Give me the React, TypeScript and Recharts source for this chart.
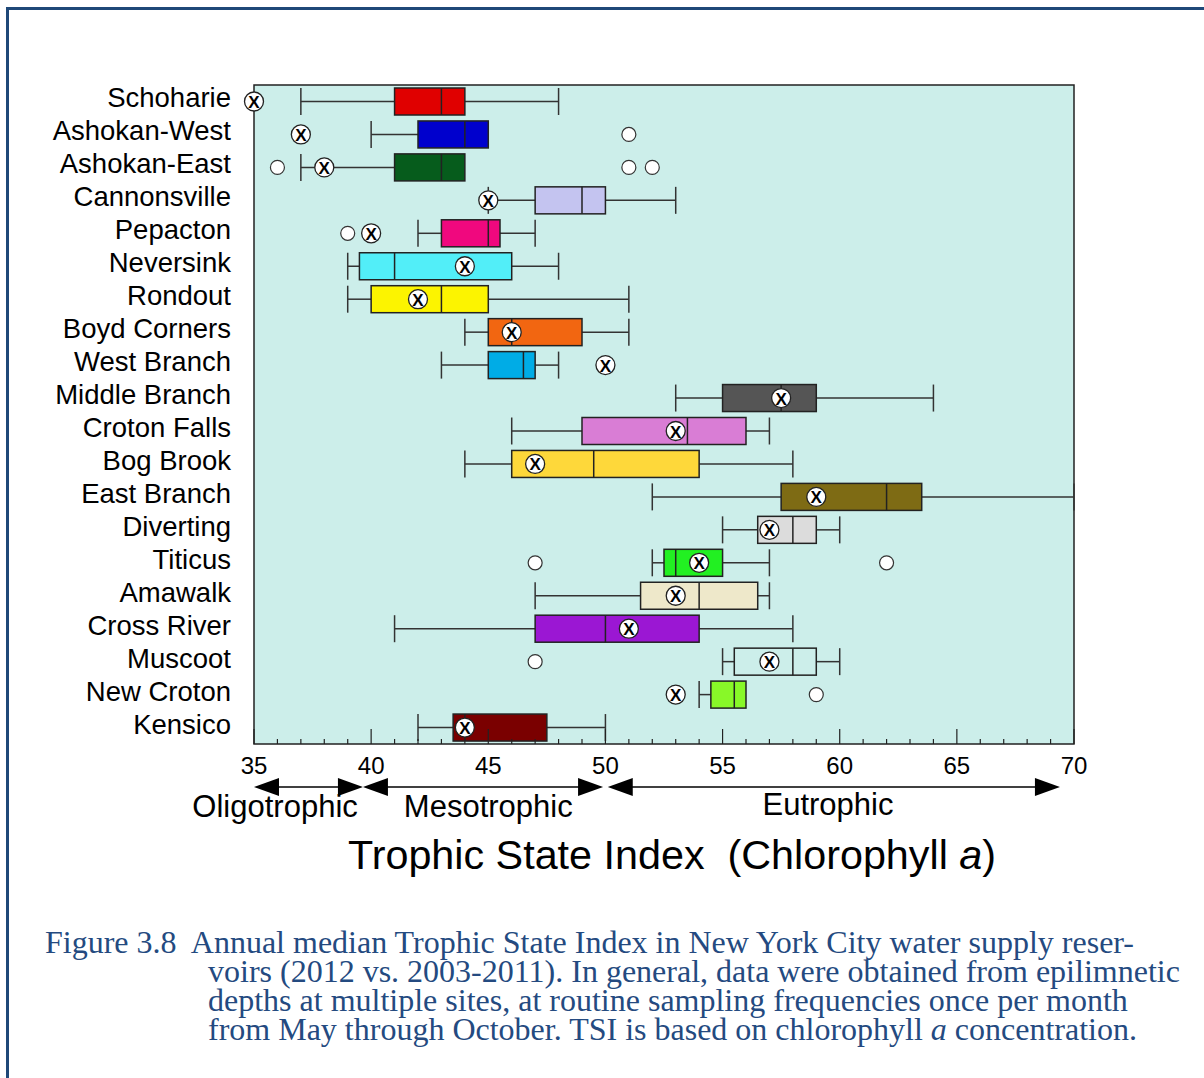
import { ComposedChart, Bar, XAxis, YAxis, CartesianGrid, ReferenceArea } from 'recharts';

// Reservoirs, top to bottom
const NAMES = [
  'Schoharie', 'Ashokan-West', 'Ashokan-East', 'Cannonsville', 'Pepacton', 'Neversink',
  'Rondout', 'Boyd Corners', 'West Branch', 'Middle Branch', 'Croton Falls', 'Bog Brook',
  'East Branch', 'Diverting', 'Titicus', 'Amawalk', 'Cross River', 'Muscoot', 'New Croton', 'Kensico',
];

// 2003-2011 distribution of annual median TSI
const LOW = [37, 40, 37, 45, 42, 39, 39, 44, 43, 53, 46, 44, 52, 55, 52, 47, 41, 55, 54, 42];
const Q1 = [41, 42, 41, 47, 43, 39.5, 40, 45, 45, 55, 49, 46, 57.5, 56.5, 52.5, 51.5, 47, 55.5, 54.5, 43.5];
const MEDIAN = [43, 44, 43, 49, 45, 41, 43, 46, 46.5, 57.5, 53.5, 49.5, 62, 58, 53, 54, 50, 58, 55.5, 44];
const Q3 = [44, 45, 44, 50, 45.5, 46, 45, 49, 47, 59, 56, 54, 63.5, 59, 55, 56.5, 54, 59, 56, 47.5];
const HIGH = [48, 45, 44, 53, 47, 48, 51, 51, 48, 64, 57, 58, 70, 60, 57, 57, 58, 60, 56, 50];
const OUTLIERS: number[][] = [
  [], [51], [36, 51, 52], [], [39], [], [], [], [], [], [], [], [], [], [47, 62], [], [], [47], [59], [],
];

// 2012 value
const Y2012 = [35, 37, 38, 45, 40, 44, 42, 46, 50, 57.5, 53, 47, 59, 57, 54, 53, 51, 57, 53, 44];

const COLORS = [
  '#e00000', '#0000cd', '#065c1c', '#c4c4f0', '#f0087e', '#52eef8', '#fcf400', '#f26611',
  '#00ace6', '#555555', '#d97dd5', '#fed83a', '#7e6b14', '#dcdcdc', '#22f022', '#eee8ca',
  '#9b17d3', 'none', '#88f828', '#7a0000',
];

const TICKS = Array.from({ length: 36 }, (_, i) => 35 + i);

const ZONES = [
  { name: 'Oligotrophic', from: 35, to: 39.65, labelAt: 35.9, labelY: 806 },
  { name: 'Mesotrophic', from: 39.65, to: 49.9, labelAt: 45.0, labelY: 806 },
  { name: 'Eutrophic', from: 50.1, to: 69.4, labelAt: 59.5, labelY: 804 },
];

const data = NAMES.map((name, i) => ({
  name,
  low: LOW[i],
  q1: Q1[i],
  median: MEDIAN[i],
  q3: Q3[i],
  high: HIGH[i],
  outliers: OUTLIERS[i],
  current: Y2012[i],
  color: COLORS[i],
}));

const FONT = '"Liberation Sans", Arial, Helvetica, sans-serif';
const PLOT_LEFT = 254;
const PLOT_TOP = 85;
const PLOT_W = 820;
const PLOT_H = 659;
const CHART_W = 1204;
const CHART_H = 880;
const TOP_AXIS_H = 2;
const BOTTOM_AXIS_H = 40;

const xPx = (v: number) => PLOT_LEFT + ((v - 35) / 35) * PLOT_W;

const BoxShape = (props: any) => {
  const { x, y, width, height, payload } = props;
  const unit = width / (payload.q3 - payload.q1);
  const sx = (v: number) => x + (v - payload.q1) * unit;
  const cy = y + height / 2;
  const wStroke = '#333';
  return (
    <g>
      {payload.low < payload.q1 && (
        <>
          <line x1={sx(payload.low)} x2={x} y1={cy} y2={cy} stroke={wStroke} strokeWidth={1.5} />
          <line x1={sx(payload.low)} x2={sx(payload.low)} y1={y} y2={y + height} stroke={wStroke} strokeWidth={1.5} />
        </>
      )}
      {payload.high > payload.q3 && (
        <>
          <line x1={x + width} x2={sx(payload.high)} y1={cy} y2={cy} stroke={wStroke} strokeWidth={1.5} />
          <line x1={sx(payload.high)} x2={sx(payload.high)} y1={y} y2={y + height} stroke={wStroke} strokeWidth={1.5} />
        </>
      )}
      <rect x={x} y={y} width={width} height={height} fill={payload.color} stroke="#222" strokeWidth={1.5} />
      <line x1={sx(payload.median)} x2={sx(payload.median)} y1={y} y2={y + height} stroke="#222" strokeWidth={1.5} />
      {payload.outliers.map((v: number, k: number) => (
        <circle key={k} cx={sx(v)} cy={cy} r={7} fill="#fff" stroke="#333" strokeWidth={1.2} />
      ))}
      <circle cx={sx(payload.current)} cy={cy} r={9.5} fill="#fff" stroke="#222" strokeWidth={1.3} />
      <text
        x={sx(payload.current)}
        y={cy + 1}
        textAnchor="middle"
        dominantBaseline="central"
        fontSize={17}
        fontWeight="bold"
        fontFamily={FONT}
        fill="#000"
      >
        X
      </text>
    </g>
  );
};

const NameTick = ({ x, y, payload }: any) => (
  <text x={x} y={y - 3.5} textAnchor="end" dominantBaseline="central" fontSize={27.5} fontFamily={FONT} fill="#000">
    {payload.value}
  </text>
);

const BottomTick = ({ x, y, payload }: any) => {
  const v = payload.value;
  const major = v % 5 === 0;
  return (
    <g>
      <line x1={x} x2={x} y1={y} y2={y - (major ? 15 : 5)} stroke="#222" strokeWidth={1.2} />
      {major && (
        <text x={x} y={y + 30} textAnchor="middle" fontSize={24} fontFamily={FONT} fill="#000">
          {v}
        </text>
      )}
    </g>
  );
};

const TopTick = ({ x, y, payload }: any) => {
  const major = payload.value % 5 === 0;
  return <line x1={x} x2={x} y1={y} y2={y + (major ? 15 : 5)} stroke="#222" strokeWidth={1.2} />;
};

const ZoneArrows = () => {
  const ay = 787;
  return (
    <svg width={CHART_W} height={CHART_H} style={{ position: 'absolute', left: 0, top: 0, pointerEvents: 'none' }}>
      {ZONES.map((z) => {
        const a = xPx(z.from);
        const b = xPx(z.to);
        return (
          <g key={z.name}>
            <line x1={a + 20} x2={b - 20} y1={ay} y2={ay} stroke="#000" strokeWidth={1.5} />
            <polygon points={`${a},${ay} ${a + 25},${ay - 9} ${a + 25},${ay + 9}`} fill="#000" />
            <polygon points={`${b},${ay} ${b - 25},${ay - 9} ${b - 25},${ay + 9}`} fill="#000" />
            <text
              x={xPx(z.labelAt)}
              y={z.labelY}
              textAnchor="middle"
              dominantBaseline="central"
              fontSize={31}
              fontFamily={FONT}
              fill="#000"
            >
              {z.name}
            </text>
          </g>
        );
      })}
      <text
        x={672}
        y={855}
        textAnchor="middle"
        dominantBaseline="central"
        fontSize={41.3}
        fontFamily={FONT}
        fill="#000"
        style={{ whiteSpace: 'pre' }}
      >
        {'Trophic State Index  (Chlorophyll '}
        <tspan fontStyle="italic">a</tspan>)
      </text>
    </svg>
  );
};

const captionStyle: React.CSSProperties = {
  position: 'absolute',
  fontFamily: '"Liberation Serif", "Times New Roman", serif',
  fontSize: 32,
  lineHeight: '29px',
  color: '#244a80',
  whiteSpace: 'pre',
};

export default function App() {
  return (
    <div style={{ position: 'absolute', left: 0, top: 0, width: 1204, height: 1078, overflow: 'hidden', background: '#fff' }}>
      <div
        style={{
          position: 'absolute',
          left: 6,
          top: 7,
          width: 1300,
          height: 1200,
          border: '3px solid #1f4878',
        }}
      />
      <div style={{ position: 'absolute', left: 0, top: 0 }}>
        <ComposedChart
          width={CHART_W}
          height={CHART_H}
          data={data}
          layout="vertical"
          margin={{
            top: PLOT_TOP - TOP_AXIS_H,
            right: CHART_W - PLOT_LEFT - PLOT_W,
            bottom: CHART_H - PLOT_TOP - PLOT_H - BOTTOM_AXIS_H,
            left: 0,
          }}
          barSize={27}
        >
          <CartesianGrid horizontal={false} vertical={false} fill="#cceeea" />
          <XAxis
            type="number"
            domain={[35, 70]}
            ticks={TICKS}
            interval={0}
            height={BOTTOM_AXIS_H}
            tickSize={0}
            tickMargin={0}
            tickLine={false}
            axisLine={false}
            tick={<BottomTick />}
          />
          <XAxis
            xAxisId="top"
            orientation="top"
            type="number"
            domain={[35, 70]}
            ticks={TICKS}
            interval={0}
            height={TOP_AXIS_H}
            tickSize={0}
            tickMargin={0}
            tickLine={false}
            axisLine={false}
            tick={<TopTick />}
          />
          <YAxis
            type="category"
            dataKey="name"
            width={PLOT_LEFT}
            tickSize={0}
            tickMargin={23}
            tickLine={false}
            axisLine={false}
            interval={0}
            tick={<NameTick />}
          />
          <ReferenceArea x1={35} x2={70} fill="none" stroke="#222" strokeWidth={1.5} ifOverflow="visible" />
          <Bar dataKey={(d: any) => [d.q1, d.q3]} shape={<BoxShape />} isAnimationActive={false} />
        </ComposedChart>
      </div>
      <ZoneArrows />
      <div style={{ ...captionStyle, left: 45, top: 928 }}>Figure 3.8  Annual median Trophic State Index in New York City water supply reser-</div>
      <div style={{ ...captionStyle, left: 208, top: 957 }}>voirs (2012 vs. 2003-2011). In general, data were obtained from epilimnetic</div>
      <div style={{ ...captionStyle, left: 208, top: 986 }}>depths at multiple sites, at routine sampling frequencies once per month</div>
      <div style={{ ...captionStyle, left: 208, top: 1015 }}>
        from May through October. TSI is based on chlorophyll <i>a</i> concentration.
      </div>
    </div>
  );
}
